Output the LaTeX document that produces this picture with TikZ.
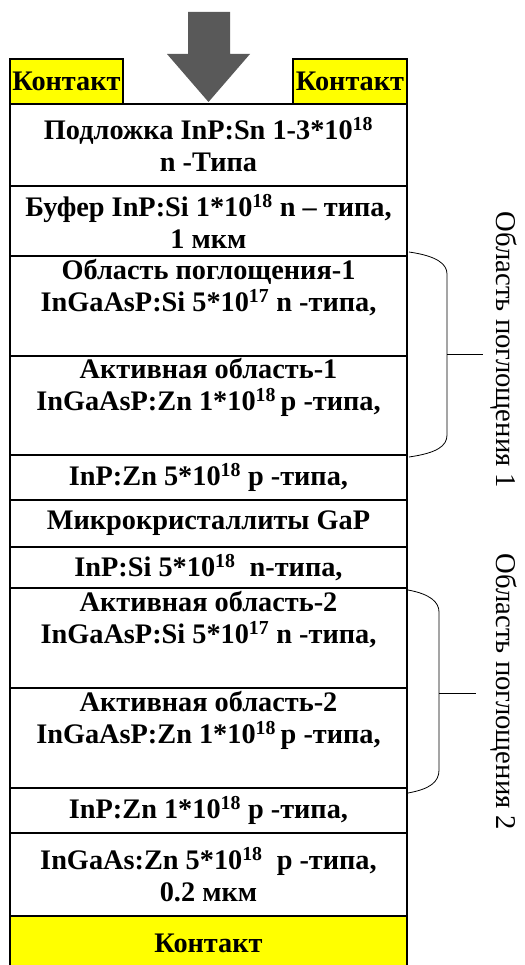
\documentclass[tikz,border=0pt]{standalone}
\usepackage{fontspec}
\setmainfont{Liberation Serif}[BoldFont={Liberation Serif Bold}]
\usepackage{tikz}
\definecolor{strelka}{RGB}{89,89,89}
\definecolor{zheltyj}{RGB}{255,255,0}
\tikzset{
  sloj/.style={draw, line width=1.2pt, minimum width=397pt, inner sep=0pt, outer sep=0pt,
    align=center, font=\fontsize{28.3}{32}\selectfont\bfseries},
  kontakt/.style={sloj, fill=zheltyj},
  skobka/.style={line width=0.8pt},
  podpis/.style={rotate=-90, font=\fontsize{28.7}{32}\selectfont}
}

\begin{document}
\begin{tikzpicture}[x=1pt, y=-1pt]
            \useasboundingbox (0,0) rectangle (524,965);

            % Layers
            \node[sloj, minimum height=82pt] (podl) at (208.5, 145) {Подложка InP:Sn 1-3*10\textsuperscript{18}\\n -Типа};
            \node[sloj, minimum height=70pt] (bufer) at (208.5, 221) {Буфер InP:Si 1*10\textsuperscript{18} n – типа,\\1 мкм};
            \node[sloj, minimum height=100pt] (pogl1) at (208.5, 306) {Область поглощения-1\\InGaAsP:Si 5*10\textsuperscript{17} n -типа,\\ \strut};
            \node[sloj, minimum height=99pt] (akt1) at (208.5, 405.5) {Активная область-1\\InGaAsP:Zn 1*10\textsuperscript{18}\,p -типа,\\ \strut};
            \node[sloj, minimum height=45pt] (inpzn5) at (208.5, 477.5) {InP:Zn 5*10\textsuperscript{18} p -типа,};
            \node[sloj, minimum height=47pt] (gap) at (208.5, 523.5) {Микрокристаллиты GaP};
            \node[sloj, minimum height=41pt] (inpsi) at (208.5, 567.5) {InP:Si 5*10\textsuperscript{18}\ \ n-типа,};
            \node[sloj, minimum height=100pt] (akt2n) at (208.5, 638) {Активная область-2\\InGaAsP:Si 5*10\textsuperscript{17} n -типа,\\ \strut};
            \node[sloj, minimum height=100pt] (akt2p) at (208.5, 738) {Активная область-2\\InGaAsP:Zn 1*10\textsuperscript{18}\,p -типа,\\ \strut};
            \node[sloj, minimum height=45pt] (inpzn1) at (208.5, 810.5) {InP:Zn 1*10\textsuperscript{18} p -типа,};
            \node[sloj, minimum height=83pt] (ingaas) at (208.5, 874.5) {InGaAs:Zn 5*10\textsuperscript{18}\ \ p -типа,\\0.2 мкм};
            \node[kontakt, minimum height=54pt] (niz) at (208.5, 943) {Контакт};

            % Top contacts
            \node[kontakt, minimum width=113pt, minimum height=45pt] (levyj) at (66.5, 81.5) {Контакт};
            \node[kontakt, minimum width=114pt, minimum height=45pt] (pravyj) at (350, 81.5) {Контакт};

            % Light arrow
            \fill[strelka] (188,12) -- (230,12) -- (230,54) -- (250,54) -- (208.5,102)
              -- (167,54) -- (188,54) -- cycle;

            % Braces
            \draw[skobka] (409,252) .. controls (437,256) and (447,264) .. (447,274)
              -- (447,435) .. controls (447,446) and (437,453) .. (409,457);
            \coordinate (s1) at (483,354);
            \draw[skobka] (447,354) -- (s1);
            \draw[skobka] (408,590) .. controls (430,594) and (439,602) .. (439,612)
              -- (439,770) .. controls (439,782) and (430,789) .. (408,793);
            \coordinate (s2) at (476,693);
            \draw[skobka] (439,693) -- (s2);

            % Labels
            \node[podpis] (obl1) at (504, 350) {Область поглощения 1};
            \node[podpis] (obl2) at (504, 692) {Область поглощения 2};
        \end{tikzpicture}
\end{document}
